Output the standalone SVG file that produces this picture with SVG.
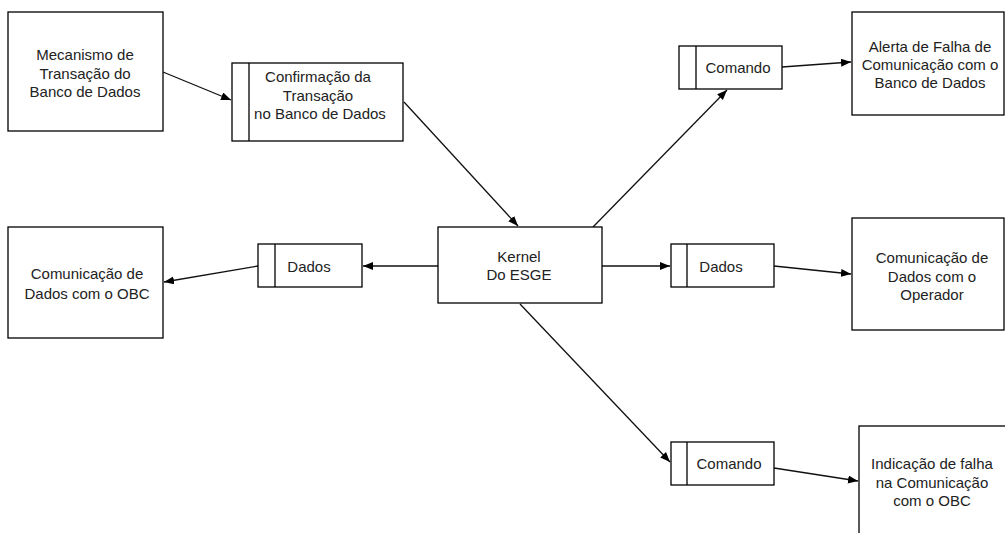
<svg xmlns="http://www.w3.org/2000/svg" width="1005" height="533" viewBox="0 0 1005 533">
<style>
.box{fill:#fff;stroke:#000;stroke-width:1.3}
.div{stroke:#000;stroke-width:1.3}
.t{font-family:"Liberation Sans",Arial,sans-serif;font-size:15px;fill:#222;text-anchor:middle}
.c{stroke:#111;stroke-width:1.3;fill:none;marker-end:url(#ah)}
</style>
<defs>
<marker id="ah" markerUnits="userSpaceOnUse" markerWidth="11" markerHeight="9" refX="10" refY="4" orient="auto">
<path d="M0,0 L10,4 L0,8 z" fill="#000"/>
</marker>
</defs>
<rect width="1005" height="533" fill="#fff"/>
<g id="connectors">
<line class="c" x1="163" y1="72" x2="231" y2="100"/>
<line class="c" x1="404" y1="102" x2="518" y2="226"/>
<line class="c" x1="593" y1="227" x2="727" y2="90"/>
<line class="c" x1="782" y1="67" x2="851" y2="62"/>
<line class="c" x1="438" y1="266" x2="363" y2="266"/>
<line class="c" x1="258" y1="266" x2="164" y2="282"/>
<line class="c" x1="602" y1="266" x2="670" y2="266"/>
<line class="c" x1="774" y1="266" x2="851" y2="274"/>
<line class="c" x1="520" y1="304" x2="670" y2="462"/>
<line class="c" x1="774" y1="468" x2="858" y2="481"/>
</g>
<g id="mecanismo">
<rect class="box" x="8" y="12" width="155" height="119"/>
<text class="t" x="85" y="60">Mecanismo de</text>
<text class="t" x="85" y="78.5">Transação do</text>
<text class="t" x="85" y="97">Banco de Dados</text>
</g>
<g id="confirmacao">
<rect class="box" x="232" y="63" width="171" height="78"/>
<line class="div" x1="249" y1="63" x2="249" y2="141"/>
<text class="t" x="318" y="82">Confirmação da</text>
<text class="t" x="318" y="100.5">Transação</text>
<text class="t" x="320" y="119">no Banco de Dados</text>
</g>
<g id="comando-top">
<rect class="box" x="679" y="46" width="103" height="43"/>
<line class="div" x1="696" y1="46" x2="696" y2="89"/>
<text class="t" x="738" y="73">Comando</text>
</g>
<g id="alerta">
<rect class="box" x="852" y="12" width="152" height="103"/>
<text class="t" x="930" y="52">Alerta de Falha de</text>
<text class="t" x="930" y="70">Comunicação com o</text>
<text class="t" x="930" y="88">Banco de Dados</text>
</g>
<g id="obc">
<rect class="box" x="8" y="227" width="155" height="111"/>
<text class="t" x="87" y="279">Comunicação de</text>
<text class="t" x="87" y="298.5">Dados com o OBC</text>
</g>
<g id="dados-left">
<rect class="box" x="258" y="244" width="104" height="43"/>
<line class="div" x1="275" y1="244" x2="275" y2="287"/>
<text class="t" x="309" y="272">Dados</text>
</g>
<g id="kernel">
<rect class="box" x="438" y="227" width="164" height="76"/>
<text class="t" x="519" y="262">Kernel</text>
<text class="t" x="519" y="280">Do ESGE</text>
</g>
<g id="dados-right">
<rect class="box" x="671" y="244" width="103" height="43"/>
<line class="div" x1="687" y1="244" x2="687" y2="287"/>
<text class="t" x="721" y="272">Dados</text>
</g>
<g id="operador">
<rect class="box" x="852" y="218" width="152" height="112"/>
<text class="t" x="932" y="263">Comunicação de</text>
<text class="t" x="932" y="282">Dados com o</text>
<text class="t" x="932" y="300">Operador</text>
</g>
<g id="comando-bottom">
<rect class="box" x="671" y="442" width="103" height="43"/>
<line class="div" x1="687" y1="442" x2="687" y2="485"/>
<text class="t" x="729" y="469">Comando</text>
</g>
<g id="indicacao">
<rect class="box" x="859" y="426" width="150" height="120"/>
<text class="t" x="932" y="469">Indicação de falha</text>
<text class="t" x="932" y="488">na Comunicação</text>
<text class="t" x="932" y="506">com o OBC</text>
</g>
</svg>
